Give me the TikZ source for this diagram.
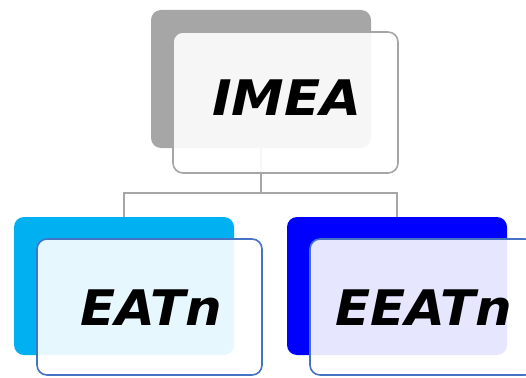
\documentclass[tikz,border=0pt]{standalone}
\usepackage{fontspec}
\newfontfamily\boxfont{DejaVu Sans}
\definecolor{backgray}{HTML}{A6A6A6}
\definecolor{linegray}{HTML}{A6A6A6}
\definecolor{backcyan}{HTML}{00B0F0}
\definecolor{backblue}{HTML}{0000FF}
\definecolor{edgeblue}{HTML}{4472C4}
\begin{document}
\begin{tikzpicture}[x=1pt,y=-1pt,
  backbox/.style={rectangle,rounded corners=10pt,inner sep=0pt,outer sep=0pt,
    minimum width=220pt,minimum height=138pt},
  frontbox/.style={rectangle,rounded corners=10pt,inner sep=0pt,outer sep=0pt,
    minimum width=225pt,fill=white,fill opacity=0.9,line width=1.6pt},
  label/.style={inner sep=0pt,font=\boxfont\bfseries\itshape\fontsize{49}{51}\selectfont,text=black},
  conn/.style={draw=linegray,line width=2pt}]
\useasboundingbox (0,0) rectangle (526,377);
% back boxes
\node[backbox,fill=backgray] (tb) at (261,79) {};
\node[backbox,fill=backcyan] (lb) at (124,286) {};
\node[backbox,fill=backblue] (rb) at (397,286) {};
% connectors
\coordinate (j) at (261,193);
\draw[conn] (tb.south) -- (j);
\draw[conn] (j) -| (lb.north);
\draw[conn] (j) -| (rb.north);
% front boxes
\node[frontbox,draw=linegray,minimum height=141pt] (tf) at (285.5,102.5) {};
\node[frontbox,draw=edgeblue,minimum height=136pt] (lf) at (149.5,307) {};
\node[frontbox,draw=edgeblue,minimum height=136pt] (rf) at (422.5,307) {};
% texts
\node[label,xscale=1.08] (tt) at (287,97.5) {IMEA};
\node[label,xscale=1.05] (lt) at (151,307.5) {EATn};
\node[label,xscale=1.05] (rt) at (423.5,307.5) {EEATn};
\end{tikzpicture}
\end{document}
